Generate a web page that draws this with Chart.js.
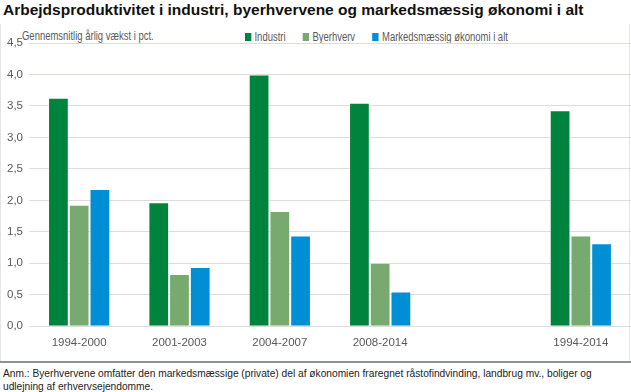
<!DOCTYPE html>
<html>
<head>
<meta charset="utf-8">
<script src="https://cdn.jsdelivr.net/npm/chart.js@4/dist/chart.umd.min.js"></script>
<style>
  body { margin: 0; background: #fff; width: 631px; height: 392px; overflow: hidden; position: relative; font-family: "Liberation Sans", Arial, sans-serif; }
  #title { position: absolute; left: 3px; top: 1px; font-size: 15.5px; font-weight: bold; color: #111; white-space: nowrap; }
  #frame { position: absolute; left: 0; top: 24px; width: 628px; height: 337px; border-left: 1px solid #e4e4e4; border-right: 1px solid #e4e4e4; }
  .narrow { position: absolute; font-size: 12px; color: #595959; white-space: nowrap; transform: scaleX(0.79); transform-origin: left center; }
  #sub { left: 21px; top: 5px; }
  #legend { left: 244px; top: 6px; }
  #legend span.item { margin-right: 22px; }
  #legend i { display: inline-block; width: 8px; height: 8px; margin-right: 4px; vertical-align: 0px; }
  #wrap { position: absolute; left: 1px; top: 24px; width: 630px; height: 328px; }
  #note { position: absolute; left: 0; top: 361px; width: 631px; border-top: 2px solid #8c9396; padding: 5px 0 0 3px; font-size: 10.2px; line-height: 12.5px; color: #222; }
</style>
</head>
<body>
<div id="title">Arbejdsproduktivitet i industri, byerhvervene og markedsmæssig økonomi i alt</div>
<div id="frame">
  <div id="sub" class="narrow">Gennemsnitlig årlig vækst i pct.</div>
  <div id="legend" class="narrow"></div>
</div>
<div id="wrap"><canvas id="chart"></canvas></div>
<div id="note">Anm.: Byerhvervene omfatter den markedsmæssige (private) del af økonomien fraregnet råstofindvinding, landbrug mv., boliger og udlejning af erhvervsejendomme.</div>
<script>
// ---------------- Data ----------------
const periods = ["1994-2000", "2001-2003", "2004-2007", "2008-2014", "", "1994-2014"];
const industri = [3.63, 1.97, 4.0, 3.55, null, 3.43];
const byerhverv = [1.93, 0.83, 1.83, 1.01, null, 1.44];
const markedsoekonomi = [2.18, 0.94, 1.44, 0.55, null, 1.32];

const seriesNames = ["Industri", "Byerhverv", "Markedsmæssig økonomi i alt"];
const seriesColors = ["#00843d", "#78a96e", "#008fd5"];

const tickFont = { family: "'Liberation Sans', Arial, sans-serif", size: 11.5 };

function bars(i, data) {
    return {
        label: seriesNames[i], data,
        backgroundColor: seriesColors[i],
        borderColor: "rgba(255,255,255,0.55)",
        borderWidth: 1,
        categoryPercentage: 0.62,
        barPercentage: 1
    };
}

const chart = new Chart(document.getElementById("chart"), {
    type: "bar",
    data: {
        labels: periods,
        datasets: [bars(0, industri), bars(1, byerhverv), bars(2, markedsoekonomi)]
    },
    options: {
        responsive: true,
        maintainAspectRatio: false,
        animation: false,
        layout: { padding: { left: 0, right: 0, top: 19, bottom: 0 } },
        plugins: {
            legend: { display: false },
            tooltip: { enabled: false }
        },
        scales: {
            x: {
                grid: { display: false },
                border: { display: false },
                ticks: { color: "#595959", font: tickFont, padding: 2 }
            },
            y: {
                min: 0, max: 4.5,
                ticks: {
                    stepSize: 0.5,
                    color: "#595959",
                    font: tickFont,
                    padding: 6,
                    callback: v => v.toFixed(1).replace(".", ",")
                },
                grid: { color: "#dedcd6", lineWidth: 1, drawTicks: false },
                border: { display: false }
            }
        }
    }
});

// ---------------- HTML legend ----------------
document.getElementById("legend").innerHTML = chart.data.datasets
    .map(ds => `<span class="item"><i style="background:${ds.backgroundColor}"></i>${ds.label}</span>`)
    .join("");
</script>
</body>
</html>
